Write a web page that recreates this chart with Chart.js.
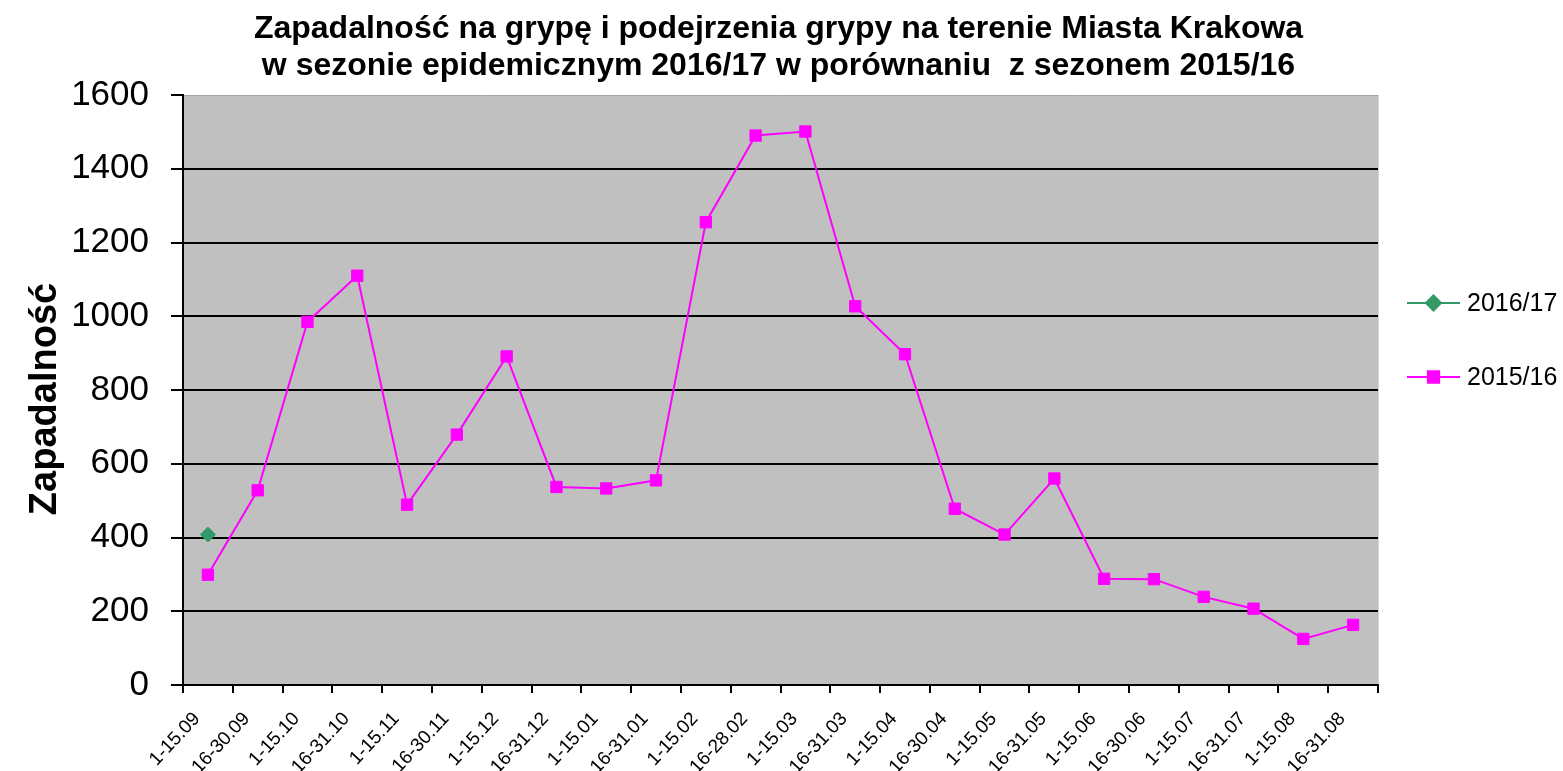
<!DOCTYPE html>
<html>
<head>
<meta charset="utf-8">
<script src="https://cdn.jsdelivr.net/npm/chart.js@4.4.1/dist/chart.umd.min.js"></script>
<style>
    html, body { margin: 0; padding: 0; background: #ffffff; }
    #wrap { width: 1563px; height: 771px; position: relative; }
</style>
</head>
<body>
<div id="wrap"><canvas id="flu-chart"></canvas></div>
<script>
'use strict';

// Section 1: data
const periods = [
    "1-15.09", "16-30.09", "1-15.10", "16-31.10", "1-15.11", "16-30.11",
    "1-15.12", "16-31.12", "1-15.01", "16-31.01", "1-15.02", "16-28.02",
    "1-15.03", "16-31.03", "1-15.04", "16-30.04", "1-15.05", "16-31.05",
    "1-15.06", "16-30.06", "1-15.07", "16-31.07", "1-15.08", "16-31.08",
];
const season1617 = [408, null, null, null, null, null, null, null, null, null, null, null,
    null, null, null, null, null, null, null, null, null, null, null, null];
const season1516 = [299, 528, 985, 1110, 489, 679, 891, 537, 533, 555, 1255, 1490,
    1501, 1027, 897, 478, 408, 560, 288, 287, 239, 207, 125, 163];
const seriesLabels = ["2016/17", "2015/16"];
const yTicks = [0, 200, 400, 600, 800, 1000, 1200, 1400, 1600];
const titleLines = [
    "Zapadalność na grypę i podejrzenia grypy na terenie Miasta Krakowa",
    "w sezonie epidemicznym 2016/17 w porównaniu  z sezonem 2015/16",
];
const yTitle = "Zapadalność";

const fontFamily = "Arial, 'Liberation Sans', sans-serif";

// gray plot area with thin light frame
const plotBackground = {
    id: "plotBackground",
    beforeDraw(chart) {
        const {ctx, chartArea: a} = chart;
        ctx.save();
        ctx.fillStyle = "#c0c0c0";
        ctx.fillRect(a.left, a.top, a.right - a.left, a.bottom - a.top);
        ctx.lineWidth = 1;
        ctx.strokeStyle = "#a4a4a4";
        ctx.beginPath();
        ctx.moveTo(a.left, a.top + 0.5);
        ctx.lineTo(a.right, a.top + 0.5);
        ctx.stroke();
        ctx.strokeStyle = "#d6d6d6";
        ctx.beginPath();
        ctx.moveTo(a.right + 0.5, a.top);
        ctx.lineTo(a.right + 0.5, a.bottom);
        ctx.stroke();
        ctx.restore();
    }
};

// titles placed like the office chart: main one centred on the page
const pageTitles = {
    id: "pageTitles",
    afterDraw(chart) {
        const ctx = chart.ctx;
        ctx.save();
        ctx.fillStyle = "#000000";
        ctx.font = `bold 32px ${fontFamily}`;
        ctx.textAlign = "center";
        ctx.textBaseline = "middle";
        titleLines.forEach((line, i) => {
            ctx.fillText(line, chart.width / 2 - 3, 29 + i * 37);
        });
        ctx.translate(46, 399);
        ctx.rotate(-Math.PI / 2);
        ctx.font = `bold 38px ${fontFamily}`;
        ctx.fillText(yTitle, 0, 0);
        ctx.restore();
    }
};

// legend drawn like the office one: line with marker in the middle
const sideLegend = {
    id: "sideLegend",
    afterDraw(chart) {
        const {ctx, chartArea: a} = chart;
        const rows = [a.top + 208, a.top + 282];
        ctx.save();
        chart.data.datasets.forEach((ds, i) => {
            const y = rows[i];
            const x1 = a.right + 29;
            const x2 = a.right + 82;
            ctx.strokeStyle = ds.borderColor;
            ctx.lineWidth = 2;
            ctx.beginPath();
            ctx.moveTo(x1, y);
            ctx.lineTo(x2, y);
            ctx.stroke();
            ctx.fillStyle = ds.pointBackgroundColor;
            ctx.strokeStyle = ds.pointBorderColor;
            Chart.helpers.drawPoint(ctx, {
                pointStyle: ds.pointStyle,
                radius: ds.pointRadius,
                rotation: 0,
                borderWidth: ds.pointBorderWidth,
            }, (x1 + x2) / 2, y);
            ctx.fillStyle = "#000000";
            ctx.font = `25px ${fontFamily}`;
            ctx.textAlign = "left";
            ctx.textBaseline = "middle";
            ctx.fillText(ds.label, a.right + 89, y + 1);
        });
        ctx.restore();
    }
};

const fluCtx = document.querySelector("#flu-chart");

const fluData = {
    labels: periods,
    datasets: [
        {
            label: seriesLabels[0],
            data: season1617,
            borderColor: "#339966",
            backgroundColor: "#339966",
            pointStyle: "rectRot",
            pointRadius: 7.5,
            pointBorderWidth: 1,
            pointBackgroundColor: "#339966",
            pointBorderColor: "#339966",
            borderWidth: 2,
        },
        {
            label: seriesLabels[1],
            data: season1516,
            borderColor: "#ff00ff",
            backgroundColor: "#ff00ff",
            pointStyle: "rect",
            pointRadius: 8,
            pointBorderWidth: 1,
            pointBackgroundColor: "#ff00ff",
            pointBorderColor: "#ff00ff",
            borderWidth: 2,
        },
    ],
};

const fluConfig = {
    type: "line",
    data: fluData,
    plugins: [plotBackground, pageTitles, sideLegend],
    options: {
        responsive: true,
        maintainAspectRatio: false,
        animation: false,
        layout: {
            padding: {left: 0, right: 185, top: 95, bottom: 0},
        },
        scales: {
            x: {
                type: "category",
                offset: true,
                afterFit: scale => { scale.height = 86; },
                grid: {
                    offset: true,
                    drawOnChartArea: false,
                    drawTicks: true,
                    tickLength: 8,
                    color: "#000000",
                    lineWidth: 2,
                },
                border: {color: "#000000", width: 2},
                ticks: {
                    autoSkip: false,
                    minRotation: 47,
                    maxRotation: 47,
                    color: "#000000",
                    padding: 15,
                    labelOffset: -11,
                    font: {family: fontFamily, size: 19},
                },
            },
            y: {
                min: 0,
                max: 1600,
                afterFit: scale => { scale.width = 183; },
                afterBuildTicks: scale => {
                    scale.ticks = yTicks.map(v => ({value: v}));
                },
                grid: {
                    color: ctx => ctx.tick && ctx.tick.value === 1600 ? "rgba(0,0,0,0)" : "#000000",
                    tickColor: "#000000",
                    lineWidth: 2,
                    tickLength: 12,
                },
                border: {color: "#000000", width: 2},
                ticks: {
                    color: "#000000",
                    padding: 22,
                    callback: value => `${value}`,
                    font: {family: fontFamily, size: 35},
                },
            },
        },
        plugins: {
            legend: {display: false},
            tooltip: {enabled: false},
            title: {display: false},
        },
    },
};

const fluChart = new Chart(fluCtx, fluConfig);
</script>
</body>
</html>
